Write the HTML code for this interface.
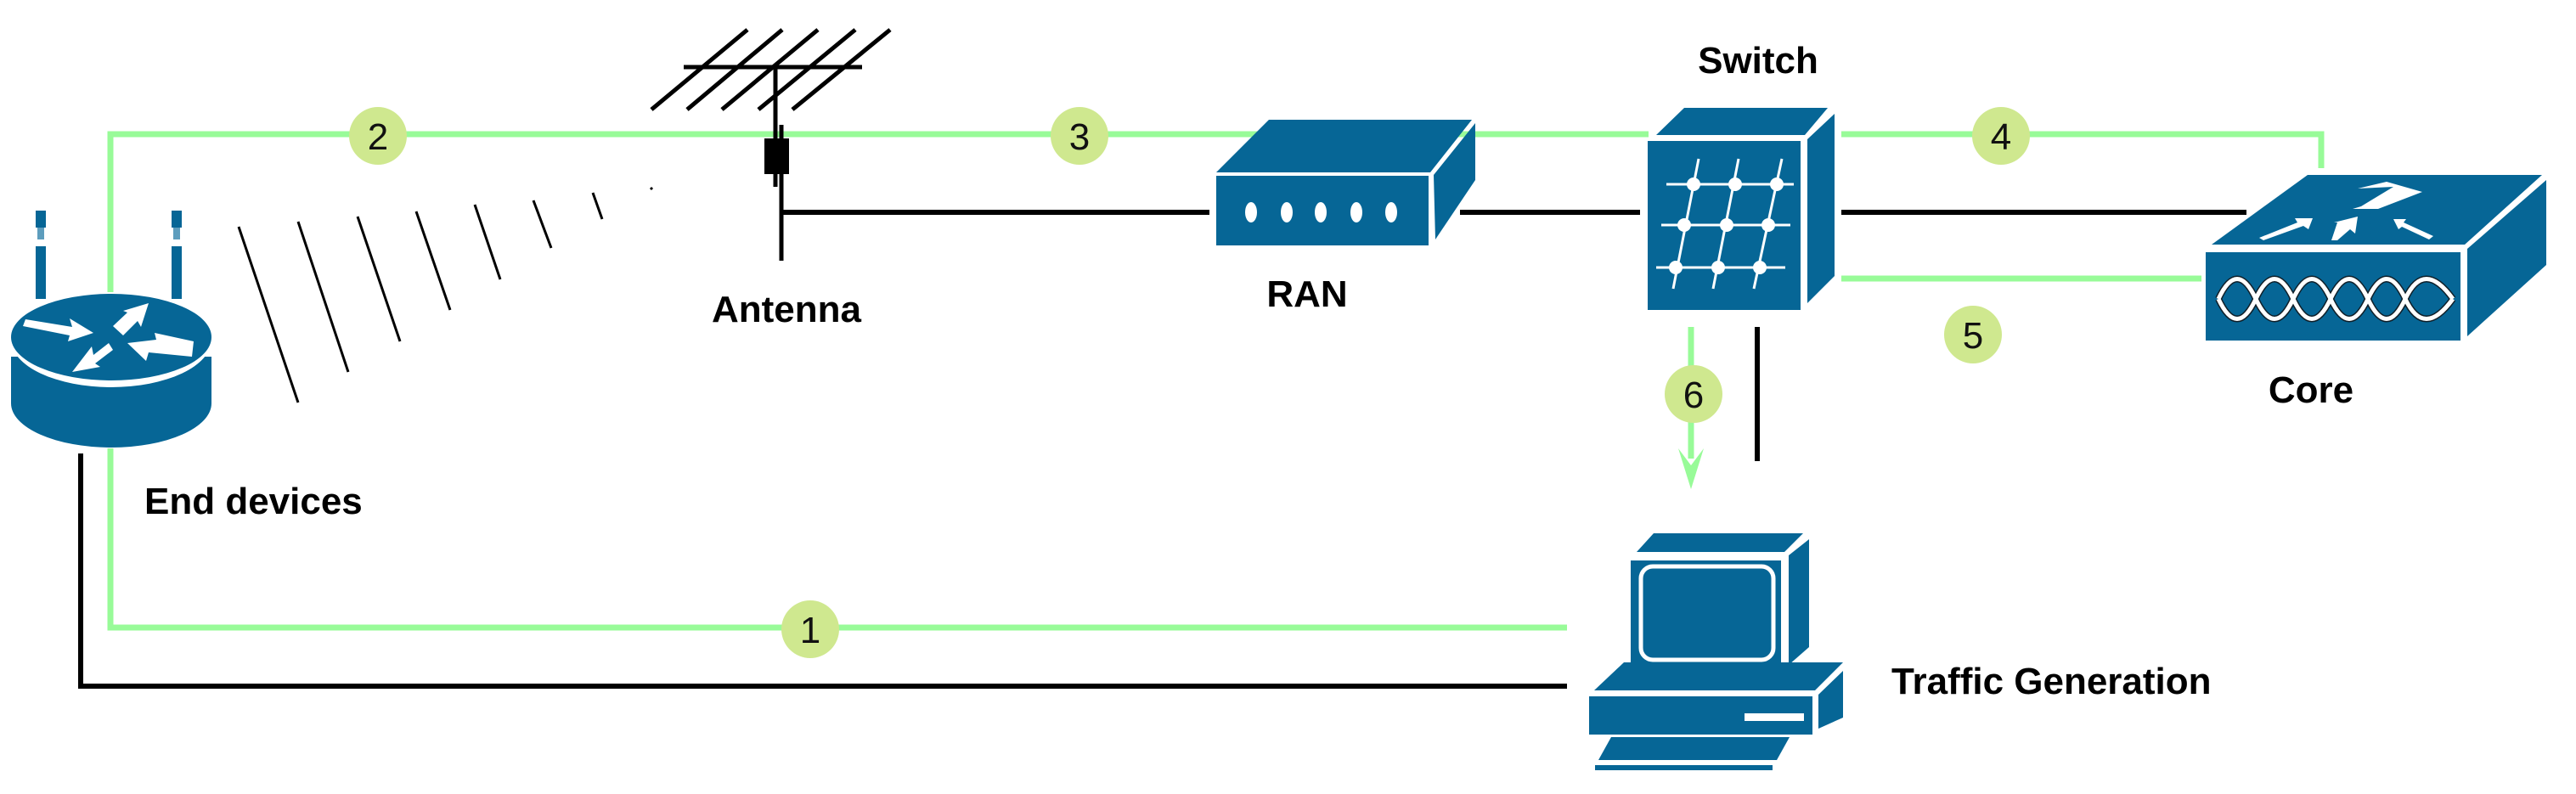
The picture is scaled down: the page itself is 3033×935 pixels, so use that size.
<!DOCTYPE html>
<html><head><meta charset="utf-8"><style>
html,body{margin:0;padding:0;background:#fff;}
svg{display:block}
text{font-family:"Liberation Sans",Arial,sans-serif;}
</style></head><body>
<svg width="3033" height="935" viewBox="0 0 3033 935" xmlns="http://www.w3.org/2000/svg">
<g fill="none" stroke-linecap="butt">
<g stroke="#98fb98" stroke-width="7">
<polyline points="130,352 130,158 1941,158"/>
<polyline points="130,528 130,739 1845,739"/>
<polyline points="2168,158 2733,158 2733,198"/>
<line x1="2168" y1="328" x2="2592" y2="328"/>
<line x1="1991" y1="385" x2="1991" y2="540"/>
</g>
<polygon points="1976,528 1991,548 2006,528 1991,576" fill="#98fb98"/>
<g stroke="#000" stroke-width="6">
<polyline points="95,534 95,808 1845,808"/>
<line x1="919" y1="250" x2="1424" y2="250"/>
<line x1="1719" y1="250" x2="1931" y2="250"/>
<line x1="2168" y1="250" x2="2645" y2="250"/>
<line x1="2069" y1="385" x2="2069" y2="543"/>
</g>
<g stroke="#000" stroke-width="5">
<line x1="805" y1="79" x2="1015" y2="79"/>
<line x1="767" y1="129" x2="880" y2="35"/>
<line x1="809" y1="129" x2="921" y2="35"/>
<line x1="850" y1="129" x2="963" y2="35"/>
<line x1="893" y1="129" x2="1007" y2="35"/>
<line x1="933" y1="129" x2="1048" y2="35"/>
<line x1="913" y1="79" x2="913" y2="220"/>
<line x1="920" y1="147" x2="920" y2="307"/>
</g>
<rect x="900" y="163" width="29" height="42" fill="#000"/>
<g stroke="#000" stroke-width="3">
<line x1="281" y1="267" x2="351" y2="474"/>
<line x1="351" y1="261" x2="410" y2="438"/>
<line x1="421" y1="255" x2="471" y2="402"/>
<line x1="490" y1="249" x2="530" y2="365"/>
<line x1="559" y1="241" x2="589" y2="329"/>
<line x1="628" y1="236" x2="649" y2="292"/>
<line x1="698" y1="227" x2="709" y2="258"/>
<line x1="766" y1="221" x2="768" y2="223"/>
</g>
</g>
<g fill="#066696">
<rect x="42" y="248" width="12" height="20"/><rect x="44" y="268" width="8" height="14" fill="#5d9dbd"/><rect x="42" y="290" width="12" height="62"/>
<rect x="202" y="248" width="12" height="20"/><rect x="204" y="268" width="8" height="14" fill="#5d9dbd"/><rect x="202" y="290" width="12" height="62"/>
<path d="M13,420 L13,475 A118,52 0 0 0 249,475 L249,420 Z"/>
<ellipse cx="131" cy="400" rx="118" ry="56" fill="#fff"/>
<ellipse cx="131" cy="397" rx="118" ry="51"/>
</g>
<g fill="#fff">
<polygon points="30,376 85,385 82,375 110,392 80,402 82,395 27,384"/>
<polygon points="133,384 150,368 145,366 175,357 166,385 162,378 145,395"/>
<polygon points="228,402 182,392 184,400 150,404 172,425 175,415 226,420"/>
<polygon points="128,404 110,418 108,408 85,438 118,432 112,428 133,412"/>
</g>
<g fill="#066696">
<polygon points="1432,203 1494,141 1733,141 1684,203"/>
<polygon points="1688,206 1737,145 1737,212 1690,282"/>
<rect x="1432" y="207" width="250" height="82"/>
</g>
<g fill="#fff">
<ellipse cx="1473" cy="250" rx="7" ry="12"/><ellipse cx="1515" cy="250" rx="7" ry="12"/><ellipse cx="1555" cy="250" rx="7" ry="12"/><ellipse cx="1597" cy="250" rx="7" ry="12"/><ellipse cx="1638" cy="250" rx="7" ry="12"/>
</g>
<g fill="#066696">
<polygon points="1950,159 1983,127 2152,127 2125,159"/>
<polygon points="2128,164 2160,134 2160,325 2128,357"/>
<rect x="1940" y="166" width="180" height="199"/>
</g>
<g stroke="#fff" stroke-width="3" fill="none">
<line x1="1962" y1="217" x2="2112" y2="217"/>
<line x1="1956" y1="265" x2="2108" y2="265"/>
<line x1="1950" y1="315" x2="2102" y2="315"/>
<line x1="2000" y1="187" x2="1970" y2="340"/>
<line x1="2047" y1="187" x2="2017" y2="340"/>
<line x1="2098" y1="187" x2="2065" y2="340"/>
</g>
<g fill="#fff">
<circle cx="1994" cy="217" r="8"/><circle cx="2043" cy="217" r="8"/><circle cx="2092" cy="217" r="8"/>
<circle cx="1983" cy="265" r="8"/><circle cx="2033" cy="265" r="8"/><circle cx="2082" cy="265" r="8"/>
<circle cx="1973" cy="315" r="8"/><circle cx="2023" cy="315" r="8"/><circle cx="2072" cy="315" r="8"/>
</g>
<g fill="#066696">
<polygon points="2604,288 2717,206 2993,206 2902,288"/>
<polygon points="2905,293 2998,212 2998,312 2905,396"/>
<rect x="2597" y="297" width="300" height="104"/>
</g>
<g fill="#fff">
<polygon points="2780,243 2818,220 2776,222 2810,214 2852,226 2800,246 2770,246"/>
<polygon points="2660,280 2705,262 2702,257 2723,257 2718,270 2712,266 2665,283"/>
<polygon points="2745,283 2752,262 2748,262 2776,255 2773,275 2767,270 2752,283"/>
<polygon points="2865,278 2830,262 2833,258 2818,258 2824,270 2828,267 2860,282"/>
</g>
<path d="M2612,352 Q2634,305 2656,352 Q2678,399 2700,352 Q2722,305 2744,352 Q2766,399 2788,352 Q2810,305 2832,352 Q2854,399 2888,352 M2612,352 Q2634,399 2656,352 Q2678,305 2700,352 Q2722,399 2744,352 Q2766,305 2788,352 Q2810,399 2832,352 Q2854,305 2888,352" stroke="#10202a" stroke-width="8" fill="none"/>
<path d="M2612,352 Q2634,305 2656,352 Q2678,399 2700,352 Q2722,305 2744,352 Q2766,399 2788,352 Q2810,305 2832,352 Q2854,399 2888,352 M2612,352 Q2634,399 2656,352 Q2678,305 2700,352 Q2722,399 2744,352 Q2766,305 2788,352 Q2810,399 2832,352 Q2854,305 2888,352" stroke="#fff" stroke-width="5" fill="none"/>
<g fill="#066696">
<polygon points="1927,650 1947,628 2123,628 2101,650"/>
<polygon points="2106,654 2130,635 2130,762 2106,783"/>
<rect x="1920" y="660" width="177" height="127"/>
<polygon points="1877,813 1912,780 2170,780 2137,813"/>
<polygon points="2141,818 2170,790 2170,845 2141,858"/>
<rect x="1871" y="820" width="263" height="45"/>
<polygon points="1882,895 1897,868 2107,868 2092,895"/>
<rect x="1878" y="901" width="209" height="6"/>
</g>
<rect x="1932" y="667" width="156" height="110" rx="14" fill="none" stroke="#fff" stroke-width="5"/>
<rect x="2054" y="840" width="70" height="9" fill="#fff"/>
<g fill="#cfe88f">
<circle cx="445" cy="160" r="34"/><circle cx="954" cy="741" r="34"/><circle cx="1271" cy="160" r="34"/>
<circle cx="2356" cy="160" r="34"/><circle cx="2323" cy="394" r="34"/><circle cx="1994" cy="464" r="34"/>
</g>
<g font-size="44" text-anchor="middle" fill="#111">
<text x="445" y="176">2</text><text x="954" y="757">1</text><text x="1271" y="176">3</text>
<text x="2356" y="176">4</text><text x="2323" y="410">5</text><text x="1994" y="480">6</text>
</g>
<g font-size="44" font-weight="bold" fill="#000">
<text x="170" y="605">End devices</text>
<text x="926" y="379" text-anchor="middle">Antenna</text>
<text x="1539" y="361" text-anchor="middle">RAN</text>
<text x="2070" y="86" text-anchor="middle">Switch</text>
<text x="2721" y="474" text-anchor="middle">Core</text>
<text x="2227" y="817">Traffic Generation</text>
</g>
</svg>
</body></html>
